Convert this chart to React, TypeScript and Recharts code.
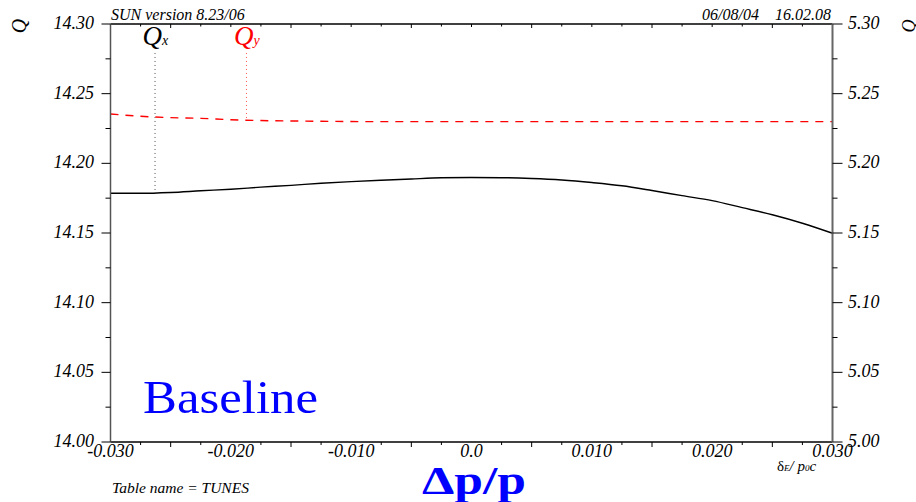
import React from 'react';
import { LineChart, Line, XAxis, YAxis, ReferenceLine } from 'recharts';

const dpValues = [
  -0.03, -0.0275, -0.025, -0.0225, -0.02, -0.0175, -0.015, -0.0125, -0.01, -0.0075, -0.005, -0.0025,
  0, 0.0025, 0.005, 0.0075, 0.01, 0.0125, 0.015, 0.0175, 0.02, 0.0225, 0.025, 0.0275, 0.03,
];
const qxValues = [
  14.1785, 14.1785, 14.1791, 14.1803, 14.1814, 14.1829, 14.1842, 14.1857, 14.1869, 14.1879, 14.1888, 14.1896,
  14.1898, 14.1897, 14.1891, 14.188, 14.1862, 14.1839, 14.1805, 14.1768, 14.1732, 14.1682, 14.1631, 14.157, 14.1498,
];
const qyValues = [
  5.2354, 5.2338, 5.2328, 5.2323, 5.2313, 5.2307, 5.2304, 5.2302, 5.23, 5.2299, 5.2299, 5.2299,
  5.2299, 5.2299, 5.2299, 5.2299, 5.2299, 5.2299, 5.2299, 5.2299, 5.2299, 5.2299, 5.2299, 5.2299, 5.2299,
];

const xTicks = dpValues;
const xLabelTicks = [-0.03, -0.02, -0.01, 0, 0.01, 0.02, 0.03];
const xTickLabels = ['-0.030', '-0.020', '-0.010', '0.0', '0.010', '0.020', '0.030'];
const qxTicks = [14.0, 14.025, 14.05, 14.075, 14.1, 14.125, 14.15, 14.175, 14.2, 14.225, 14.25, 14.275, 14.3];
const qyTicks = [5.0, 5.025, 5.05, 5.075, 5.1, 5.125, 5.15, 5.175, 5.2, 5.225, 5.25, 5.275, 5.3];

// marker annotations (Qx / Qy labels with dotted drop lines)
const markerNames = ['x', 'y'];
const markerDp = [-0.0263, -0.0187];
const markerTop = [14.2792, 5.2792];
const markerBottom = [14.1785, 5.2309];
const markerColors = ['#000000', '#ff0000'];
const markerLineColors = ['#555555', '#ff5555'];

const data = dpValues.map((dp, i) => ({ dp, qx: qxValues[i], qy: qyValues[i] }));

const FONT = '"Liberation Serif", "Times New Roman", serif';

const isMult = (v: number, step: number) => Math.abs(v / step - Math.round(v / step)) < 1e-6;

function BottomTick(props: any) {
  const { x, y, payload } = props;
  const v = payload.value;
  const idx = xLabelTicks.findIndex((t) => Math.abs(t - v) < 1e-9);
  const len = idx >= 0 ? 0 : isMult(v, 0.005) ? 5 : 3;
  return (
    <g>
      {len > 0 && <line x1={x} x2={x} y1={y} y2={y + len} stroke="#000" strokeWidth={1} />}
      {idx >= 0 && (
        <text x={x} y={y + 15} textAnchor="middle" fontFamily={FONT} fontStyle="italic" fontSize={18} fill="#000">
          {xTickLabels[idx]}
        </text>
      )}
    </g>
  );
}

function TopTick(props: any) {
  const { x, y, payload } = props;
  const v = payload.value;
  const len = isMult(v, 0.01) ? 3 : isMult(v, 0.005) ? 4 : 2.5;
  if (Math.abs(v) > 0.0299) return <g />;
  return <line x1={x} x2={x} y1={y} y2={y + len} stroke="#000" strokeWidth={1} />;
}

function LeftTick(props: any) {
  const { x, y, payload } = props;
  const v = payload.value;
  const major = isMult(v, 0.05);
  return (
    <g>
      <line x1={x} x2={x - (major ? 9 : 5)} y1={y} y2={y} stroke="#000" strokeWidth={1} />
      {major && (
        <text x={x - 16.5} y={y + 5} textAnchor="end" fontFamily={FONT} fontStyle="italic" fontSize={18} fill="#000">
          {v.toFixed(2)}
        </text>
      )}
    </g>
  );
}

function RightTick(props: any) {
  const { x, y, payload } = props;
  const v = payload.value;
  const major = isMult(v, 0.05);
  return (
    <g>
      <line x1={x} x2={x + (major ? 10 : 5)} y1={y} y2={y} stroke="#000" strokeWidth={1} />
      {major && (
        <text x={x + 15.5} y={y + 5} textAnchor="start" fontFamily={FONT} fontStyle="italic" fontSize={18} fill="#000">
          {v.toFixed(2)}
        </text>
      )}
    </g>
  );
}

function markerLabel(i: number) {
  return (p: any) => {
    const vb = p.viewBox || {};
    const x = vb.x ?? 0;
    const y = vb.y ?? 0;
    return (
      <text x={x - 12.5} y={y - 8} fontFamily={FONT} fontStyle="italic" fontSize={27} fill={markerColors[i]}>
        Q
        <tspan fontSize={14}>{markerNames[i]}</tspan>
      </text>
    );
  };
}

export default function App() {
  return (
    <div style={{ position: 'absolute', left: 0, top: 0, width: 916, height: 502, background: '#fff' }}>
      <LineChart width={916} height={502} data={data} margin={{ top: 4, right: 23.5, bottom: 30, left: 50.5 }}>
        <XAxis
          dataKey="dp"
          type="number"
          domain={[-0.03, 0.03]}
          ticks={xTicks}
          interval={0}
          tickSize={0}
          tickMargin={0}
          tickLine={false}
          tick={(p: any) => <BottomTick {...p} />}
          axisLine={{ stroke: '#000', strokeWidth: 1.5 }}
          height={30}
          allowDataOverflow
        />
        <XAxis
          xAxisId="top"
          orientation="top"
          dataKey="dp"
          type="number"
          domain={[-0.03, 0.03]}
          ticks={xTicks}
          interval={0}
          tickSize={0}
          tickMargin={0}
          tickLine={false}
          tick={(p: any) => <TopTick {...p} />}
          axisLine={{ stroke: '#000', strokeWidth: 1.5 }}
          height={20}
          allowDataOverflow
        />
        <YAxis
          yAxisId="left"
          orientation="left"
          type="number"
          domain={[14.0, 14.3]}
          ticks={qxTicks}
          interval={0}
          tickSize={0}
          tickMargin={0}
          tickLine={false}
          tick={(p: any) => <LeftTick {...p} />}
          axisLine={{ stroke: '#555', strokeWidth: 1.5 }}
          width={60}
          allowDataOverflow
        />
        <YAxis
          yAxisId="right"
          orientation="right"
          type="number"
          domain={[5.0, 5.3]}
          ticks={qyTicks}
          interval={0}
          tickSize={0}
          tickMargin={0}
          tickLine={false}
          tick={(p: any) => <RightTick {...p} />}
          axisLine={{ stroke: '#666', strokeWidth: 2 }}
          width={60}
          allowDataOverflow
        />
        {markerNames.map((n, i) => (
          <ReferenceLine
            key={n}
            yAxisId={i === 0 ? 'left' : 'right'}
            segment={[
              { x: markerDp[i], y: markerTop[i] },
              { x: markerDp[i], y: markerBottom[i] },
            ]}
            stroke={markerLineColors[i]}
            strokeWidth={1}
            strokeDasharray="1 3"
            label={markerLabel(i)}
          />
        ))}
        <Line
          yAxisId="left"
          type="monotone"
          dataKey="qx"
          stroke="#000"
          strokeWidth={1.4}
          dot={false}
          isAnimationActive={false}
        />
        <Line
          yAxisId="right"
          type="monotone"
          dataKey="qy"
          stroke="#ff0000"
          strokeWidth={1.4}
          strokeDasharray="8 7"
          dot={false}
          isAnimationActive={false}
        />
      </LineChart>
      <svg
        width={916}
        height={502}
        style={{ position: 'absolute', left: 0, top: 0, pointerEvents: 'none' }}
      >
        <text x={111} y={19.5} fontFamily={FONT} fontStyle="italic" fontSize={16} fill="#000">
          SUN version 8.23/06
        </text>
        <text x={759} y={19.5} textAnchor="end" fontFamily={FONT} fontStyle="italic" fontSize={16} fill="#000">
          06/08/04
        </text>
        <text x={831} y={19.5} textAnchor="end" fontFamily={FONT} fontStyle="italic" fontSize={16} fill="#000">
          16.02.08
        </text>
        <text x={19} y={26} transform="rotate(-90 19 26)" textAnchor="middle" dominantBaseline="central" fontFamily={FONT} fontStyle="italic" fontSize={20} fill="#000">
          Q
        </text>
        <text x={909} y={26} transform="rotate(-90 909 26)" textAnchor="middle" dominantBaseline="central" fontFamily={FONT} fontStyle="italic" fontSize={18} fill="#000">
          Q
        </text>
        <text x={143} y={413} fontFamily={FONT} fontSize={46} fill="#0000ff" textLength={175} lengthAdjust="spacingAndGlyphs">
          Baseline
        </text>
        <text x={422} y={494} fontFamily={FONT} fontWeight="bold" fontSize={41} fill="#0000ff" textLength={104} lengthAdjust="spacingAndGlyphs">
          Δp/p
        </text>
        <text x={777} y={471} fontFamily={FONT} fontSize={15} fill="#000">
          δ
          <tspan fontStyle="italic" fontSize={9}>E</tspan>
          <tspan fontStyle="italic">/ p</tspan>
          <tspan fontStyle="italic" fontSize={9}>0</tspan>
          <tspan fontStyle="italic">c</tspan>
        </text>
        <text x={112} y={493} fontFamily={FONT} fontStyle="italic" fontSize={15.5} fill="#000">
          Table name = TUNES
        </text>
      </svg>
    </div>
  );
}
